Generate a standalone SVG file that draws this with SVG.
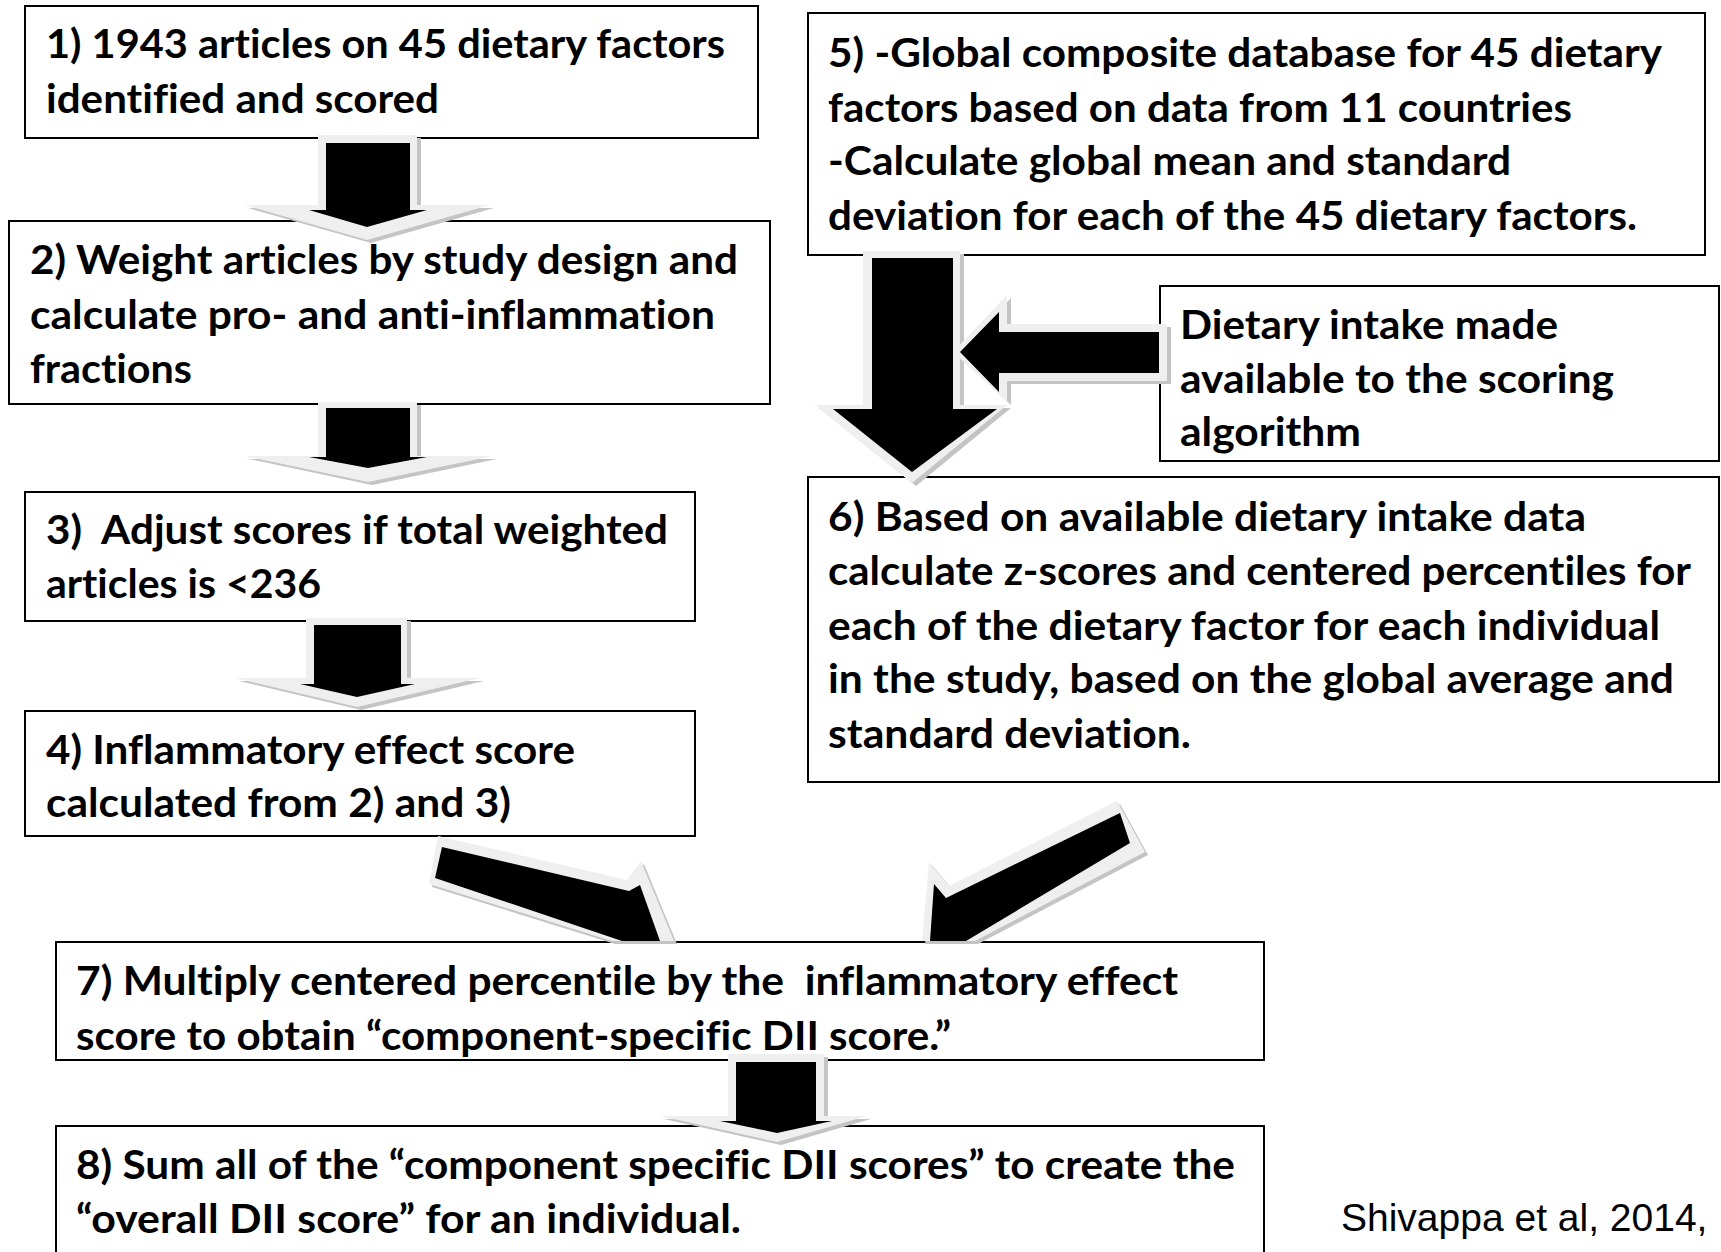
<svg xmlns="http://www.w3.org/2000/svg" xmlns:xlink="http://www.w3.org/1999/xlink" width="1721" height="1252" viewBox="0 0 1721 1252">
<style>
.box{fill:#fff;stroke:#000;stroke-width:2}
.t{font-family:Lato,"Open Sans","Liberation Sans",sans-serif;font-weight:700;font-size:40px;fill:#000;white-space:pre;font-variant-ligatures:none;font-feature-settings:"liga" 0}
.cite{font-family:"Liberation Sans",Arial,sans-serif;font-size:39px;fill:#000}
.ag{fill:#efefef}
.as{fill:#c4c4c4}
.ab{fill:#000}
</style>
<defs>
<path id="oA" d="M318,135 H417 V205 H490 L367,240 L244,205 H318 Z"/>
<path id="oB" d="M318,402 H417 V456 H493 L368,482 L245,456 H318 Z"/>
<path id="oC" d="M306,618 H407 V678 H480 L357,707 L235,678 H306 Z"/>
<path id="oD" d="M728,1054 H824 V1116 H867 L777,1142 L660,1116 H728 Z"/>
<path id="oE" d="M863,251 H960 V405 H1007 L912,483 L815,405 H863 Z"/>
<path id="oF" d="M1167,324 V381 H1007 V402 L953,352 L1007,295 V324 Z"/>
<path id="oG" d="M438,836 L627,880 L641,861 L674,941 L612,941 L429,884 Z"/>
<path id="oH" d="M1117,801 L949,886 L929,862 L922,941 L975,941 L1145,852 Z"/>
</defs>
<rect width="1721" height="1252" fill="#fff"/>

<g id="node1">
<rect class="box" x="25" y="6" width="733" height="132"/>
<text class="t" x="46" y="58" textLength="679" lengthAdjust="spacingAndGlyphs">1) 1943 articles on 45 dietary factors</text>
<text class="t" x="46" y="113" textLength="393" lengthAdjust="spacingAndGlyphs">identified and scored</text>
</g>
<g id="node2">
<rect class="box" x="9" y="221" width="761" height="183"/>
<text class="t" x="30" y="274" textLength="708" lengthAdjust="spacingAndGlyphs">2) Weight articles by study design and</text>
<text class="t" x="30" y="329" textLength="685" lengthAdjust="spacingAndGlyphs">calculate pro- and anti-inflammation</text>
<text class="t" x="30" y="383" textLength="162" lengthAdjust="spacingAndGlyphs">fractions</text>
</g>
<g id="node3">
<rect class="box" x="25" y="492" width="670" height="129"/>
<text class="t" x="46" y="544" textLength="622" lengthAdjust="spacingAndGlyphs">3)  Adjust scores if total weighted</text>
<text class="t" x="46" y="598" textLength="275" lengthAdjust="spacingAndGlyphs">articles is &lt;236</text>
</g>
<g id="node4">
<rect class="box" x="25" y="711" width="670" height="125"/>
<text class="t" x="46" y="764" textLength="529" lengthAdjust="spacingAndGlyphs">4) Inflammatory effect score</text>
<text class="t" x="46" y="817" textLength="465" lengthAdjust="spacingAndGlyphs">calculated from 2) and 3)</text>
</g>
<g id="node5">
<rect class="box" x="808" y="13" width="897" height="242"/>
<text class="t" x="828" y="67" textLength="834" lengthAdjust="spacingAndGlyphs">5) -Global composite database for 45 dietary</text>
<text class="t" x="828" y="122" textLength="744" lengthAdjust="spacingAndGlyphs">factors based on data from 11 countries</text>
<text class="t" x="828" y="175" textLength="683" lengthAdjust="spacingAndGlyphs">-Calculate global mean and standard</text>
<text class="t" x="828" y="230" textLength="809" lengthAdjust="spacingAndGlyphs">deviation for each of the 45 dietary factors.</text>
</g>
<g id="nodeIntake">
<rect class="box" x="1160" y="286" width="559" height="175"/>
<text class="t" x="1180" y="339" textLength="378" lengthAdjust="spacingAndGlyphs">Dietary intake made</text>
<text class="t" x="1180" y="393" textLength="434" lengthAdjust="spacingAndGlyphs">available to the scoring</text>
<text class="t" x="1180" y="446" textLength="181" lengthAdjust="spacingAndGlyphs">algorithm</text>
</g>
<g id="node6">
<rect class="box" x="808" y="477" width="911" height="305"/>
<text class="t" x="828" y="531" textLength="758" lengthAdjust="spacingAndGlyphs">6) Based on available dietary intake data</text>
<text class="t" x="828" y="585" textLength="863" lengthAdjust="spacingAndGlyphs">calculate z-scores and centered percentiles for</text>
<text class="t" x="828" y="640" textLength="832" lengthAdjust="spacingAndGlyphs">each of the dietary factor for each individual</text>
<text class="t" x="828" y="693" textLength="846" lengthAdjust="spacingAndGlyphs">in the study, based on the global average and</text>
<text class="t" x="828" y="748" textLength="363" lengthAdjust="spacingAndGlyphs">standard deviation.</text>
</g>
<g id="node7">
<rect class="box" x="56" y="942" width="1208" height="118"/>
<text class="t" x="76" y="995" textLength="1102" lengthAdjust="spacingAndGlyphs">7) Multiply centered percentile by the  inflammatory effect</text>
<text class="t" x="76" y="1050" textLength="875" lengthAdjust="spacingAndGlyphs">score to obtain “component-specific DII score.”</text>
</g>
<g id="node8">
<rect class="box" x="56" y="1126" width="1208" height="140"/>
<text class="t" x="76" y="1179" textLength="1159" lengthAdjust="spacingAndGlyphs">8) Sum all of the “component specific DII scores” to create the</text>
<text class="t" x="76" y="1233" textLength="665" lengthAdjust="spacingAndGlyphs">“overall DII score” for an individual.</text>
</g>
<g id="citation">
<text class="cite" x="1341" y="1231">Shivappa et al, 2014,</text>
</g>

<g id="connectors">
<g id="arrow1-2"><use xlink:href="#oA" class="as" transform="translate(4,3)"/><use xlink:href="#oA" class="ag"/><path class="ab" d="M326,143 H410 V210 H427 L367,227 L309,210 H326 Z"/></g>
<g id="arrow2-3"><use xlink:href="#oB" class="as" transform="translate(4,3)"/><use xlink:href="#oB" class="ag"/><path class="ab" d="M326,408 H410 V457 H427 L368,468 L309,457 H326 Z"/></g>
<g id="arrow3-4"><use xlink:href="#oC" class="as" transform="translate(4,3)"/><use xlink:href="#oC" class="ag"/><path class="ab" d="M314,625 H401 V684 H415 L357,697 L300,684 H314 Z"/></g>
<g id="arrow5-6"><use xlink:href="#oE" class="as" transform="translate(4,3)"/><use xlink:href="#oE" class="ag"/><path class="ab" d="M872,258 H953 V409 H997 L912,472 L833,409 H872 Z"/></g>
<g id="arrowIntake-6"><use xlink:href="#oF" class="as" transform="translate(4,3)"/><use xlink:href="#oF" class="ag"/><path class="ab" d="M1159,332 V373 H999 V392 L960,352 L999,312 V332 Z"/></g>
<g id="arrow4-7"><use xlink:href="#oG" class="as" transform="translate(3,3)"/><use xlink:href="#oG" class="ag"/><path class="ab" d="M442,847 L629,891 L640,885 L660,941 L622,941 L435,878 Z"/></g>
<g id="arrow6-7"><use xlink:href="#oH" class="as" transform="translate(3,3)"/><use xlink:href="#oH" class="ag"/><path class="ab" d="M1120,813 L946,898 L934,884 L930,941 L966,941 L1130,843 Z"/></g>
<g id="arrow7-8"><use xlink:href="#oD" class="as" transform="translate(4,3)"/><use xlink:href="#oD" class="ag"/><path class="ab" d="M736,1062 H816 V1121 H832 L777,1133 L720,1121 H736 Z"/></g>
</g>
</svg>
